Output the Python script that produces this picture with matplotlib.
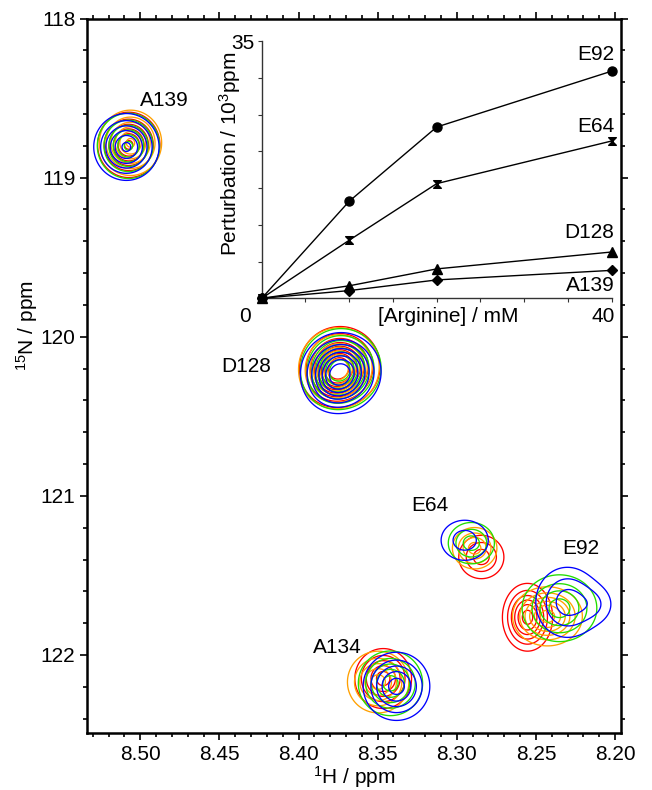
import numpy as np
import matplotlib
matplotlib.use("Agg")
import matplotlib.pyplot as plt
from matplotlib.path import Path
from matplotlib.ticker import MultipleLocator, FormatStrFormatter, FixedLocator

plt.rcParams['font.family'] = ['Liberation Sans', 'DejaVu Sans']
plt.rcParams['mathtext.fontset'] = 'custom'
plt.rcParams['mathtext.rm'] = 'Liberation Sans'
plt.rcParams['mathtext.it'] = 'Liberation Sans:italic'

# ---------------- data ----------------
residues = ['A139', 'D128', 'E64', 'E92', 'A134']
arginine_mM = [0, 10, 20, 40]
spectrum_colors = ['#ff0000', '#ffa000', '#22dd00', '#0000ff']

# peak centres (1H, 15N) for each residue at 0, 10, 20, 40 mM
peak_H = [[8.5073, 8.5062, 8.5075, 8.5088],
          [8.3737, 8.3743, 8.3731, 8.3731],
          [8.2845, 8.2887, 8.2908, 8.2950],
          [8.2553, 8.2427, 8.2351, 8.2301],
          [8.3465, 8.3497, 8.3419, 8.3381]]
peak_N = [[118.794, 118.781, 118.800, 118.807],
          [120.184, 120.191, 120.197, 120.222],
          [121.384, 121.329, 121.297, 121.279],
          [121.763, 121.757, 121.706, 121.669],
          [122.148, 122.170, 122.178, 122.197]]
peak_height = [[0.62, 0.62, 0.62, 0.62],
               [0.85, 0.85, 0.85, 0.85],
               [0.35, 0.45, 0.35, 0.25],
               [0.65, 0.65, 0.45, 0.35],
               [0.55, 0.55, 0.55, 0.55]]
width_H = [[0.0103, 0.0103, 0.0103, 0.0108],
           [0.0122, 0.0122, 0.0122, 0.0122],
           [0.0090, 0.0081, 0.0092, 0.0110],
           [0.0082, 0.0114, 0.0136, 0.0126],
           [0.0097, 0.0105, 0.0110, 0.0114]]
width_N = [[0.1075, 0.1075, 0.1075, 0.110],
           [0.120, 0.120, 0.120, 0.120],
           [0.086, 0.075, 0.082, 0.093],
           [0.110, 0.096, 0.121, 0.139],
           [0.102, 0.105, 0.110, 0.116]]
# secondary (shoulder) components: residue index, spectrum index, 1H, 15N, height, widths
shoulder_res = [1, 1, 1, 1, 3]
shoulder_spec = [0, 1, 2, 3, 3]
shoulder_H = [8.3795, 8.3801, 8.3789, 8.3789, 8.2112]
shoulder_N = [120.280, 120.287, 120.293, 120.318, 121.683]
shoulder_height = [0.15, 0.15, 0.15, 0.15, 0.12]
shoulder_wH = [0.0090, 0.0090, 0.0090, 0.0090, 0.008]
shoulder_wN = [0.085, 0.085, 0.085, 0.085, 0.080]
contour_levels = [0.1, 0.2, 0.3, 0.4, 0.5, 0.6, 0.7, 0.8]

label_H = [8.4851, 8.4331, 8.3171, 8.2215, 8.3754]
label_N = [118.518, 120.184, 121.058, 121.329, 121.950]

# inset: chemical shift perturbation (10^-3 ppm)
pert_E92 = [0, 13.2, 23.3, 30.9]
pert_E64 = [0, 7.9, 15.6, 21.4]
pert_D128 = [0, 1.7, 4.0, 6.3]
pert_A139 = [0, 1.05, 2.5, 3.8]
inset_label_y = [33.1, 23.4, 9.0, 1.7]

# ---------------- figure ----------------
fig = plt.figure(figsize=(6.52, 7.90), dpi=100)
ax = fig.add_axes([0.1339, 0.0722, 0.8186, 0.9043])

hx = np.linspace(8.18, 8.55, 740)
ny = np.linspace(117.9, 122.6, 940)
HX, NY = np.meshgrid(hx, ny)


def gauss(h0, n0, amp, wh, wn):
    return amp * np.exp(-0.5 * (((HX - h0) / wh) ** 2 + ((NY - n0) / wn) ** 2))


for s, col in enumerate(spectrum_colors):
    Z = np.zeros_like(HX)
    for r in range(len(residues)):
        Z += gauss(peak_H[r][s], peak_N[r][s], peak_height[r][s], width_H[r][s], width_N[r][s])
    for k in range(len(shoulder_res)):
        if shoulder_spec[k] == s:
            Z += gauss(shoulder_H[k], shoulder_N[k], shoulder_height[k],
                       shoulder_wH[k], shoulder_wN[k])
    ax.contour(HX, NY, Z, levels=contour_levels, colors=col, linewidths=0.95)

for name, lx, ly in zip(residues, label_H, label_N):
    ax.text(lx, ly, name, fontsize=15, ha='center', va='center')

ax.set_xlim(8.5335, 8.1962)
ax.set_ylim(122.49, 118.0)
ax.xaxis.set_major_locator(MultipleLocator(0.05))
ax.xaxis.set_minor_locator(MultipleLocator(0.01))
ax.xaxis.set_major_formatter(FormatStrFormatter('%.2f'))
ax.yaxis.set_major_locator(MultipleLocator(1))
ax.yaxis.set_minor_locator(MultipleLocator(0.2))
ax.yaxis.set_major_formatter(FormatStrFormatter('%d'))
ax.tick_params(which='both', direction='out', top=True, right=True,
               labeltop=False, labelright=False, labelsize=15, width=1.2)
ax.tick_params(which='major', length=5)
ax.tick_params(which='minor', length=3)
for sp in ax.spines.values():
    sp.set_linewidth(1.8)
ax.set_xlabel('$^{1}$H / ppm', fontsize=15)
ax.xaxis.set_label_coords(0.5, -0.043)
ax.set_ylabel('$^{15}$N / ppm', fontsize=15)
ax.yaxis.set_label_coords(-0.088, 0.57)

# ---------------- inset ----------------
axi = fig.add_axes([0.4014, 0.6224, 0.5368, 0.3257])
axi.set_facecolor('none')
bowtie = Path([(-1, 1), (1, 1), (-1, -1), (1, -1), (-1, 1)],
              [Path.MOVETO, Path.LINETO, Path.LINETO, Path.LINETO, Path.CLOSEPOLY])
series = [(pert_E92, 'o', 6.5), (pert_E64, bowtie, 5.5), (pert_D128, '^', 6.5), (pert_A139, 'D', 5)]
for vals, mk, ms in series:
    axi.plot(arginine_mM, vals, color='black', lw=1.0, marker=mk, ms=ms,
             mfc='black', mec='black', clip_on=False, zorder=3)
for name, yy in zip(['E92', 'E64', 'D128', 'A139'], inset_label_y):
    axi.text(40.3, yy, name, fontsize=15, ha='right', va='center')

axi.set_xlim(0, 40)
axi.set_ylim(0, 35)
axi.spines['top'].set_visible(False)
axi.spines['right'].set_visible(False)
for sp in ['left', 'bottom']:
    axi.spines[sp].set_linewidth(1.0)
    axi.spines[sp].set_color('#333333')
axi.xaxis.set_major_locator(FixedLocator([0, 5, 10, 15, 20, 25, 30, 35, 40]))
axi.set_xticklabels([''] * 9)
axi.yaxis.set_major_locator(FixedLocator([0, 5, 10, 15, 20, 25, 30, 35]))
axi.set_yticklabels(['', '', '', '', '', '', '', '35'])
axi.tick_params(axis='x', direction='out', length=3, color='#333333')
axi.tick_params(axis='y', direction='out', length=3, labelsize=15, pad=2, color='#333333')
xt = axi.get_xaxis_transform()
axi.text(-1.9, -0.0715, '0', fontsize=15, ha='center', va='center', transform=xt)
axi.text(40.4, -0.0715, '40', fontsize=15, ha='right', va='center', transform=xt)
axi.text(21.3, -0.0715, '[Arginine] / mM', fontsize=15, ha='center', va='center', transform=xt)
fig.text(0.3528, 0.805, 'Perturbation / 10$^{3}$ppm', fontsize=15, rotation=90,
         ha='center', va='center')

fig.savefig('out.png', dpi=100)
